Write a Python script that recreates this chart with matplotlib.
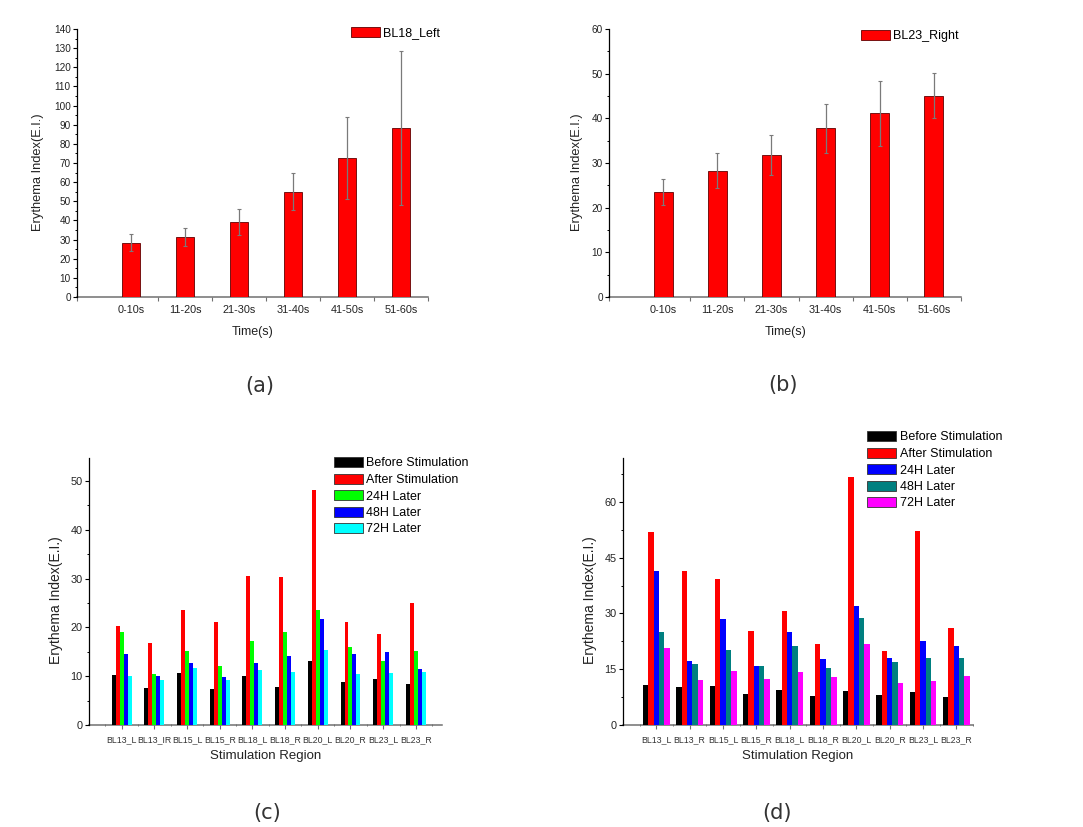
import numpy as np
import matplotlib
matplotlib.use("Agg")
import matplotlib.pyplot as plt
from matplotlib.ticker import MultipleLocator, FixedLocator

plt.rcParams["font.family"] = ["Liberation Sans", "DejaVu Sans"]

W, H = 1083, 827

# --- data -------------------------------------------------------------------
times = ["0-10s", "11-20s", "21-30s", "31-40s", "41-50s", "51-60s"]

bl18_left = [28.4, 31.6, 39.2, 55.1, 72.4, 88.4]
bl18_left_err = [4.6, 4.7, 7.0, 9.6, 21.4, 40.1]

bl23_right = [23.6, 28.3, 31.8, 37.8, 41.1, 45.1]
bl23_right_err = [2.9, 3.9, 4.5, 5.5, 7.3, 5.0]

regions = ["BL13_L", "BL13_IR", "BL15_L", "BL15_R", "BL18_L",
           "BL18_R", "BL20_L", "BL20_R", "BL23_L", "BL23_R"]
regions_d = ["BL13_L", "BL13_R", "BL15_L", "BL15_R", "BL18_L",
             "BL18_R", "BL20_L", "BL20_R", "BL23_L", "BL23_R"]

c_labels = ["Before Stimulation", "After Stimulation", "24H Later",
            "48H Later", "72H Later"]
c_before = [10.3, 7.5, 10.7, 7.3, 10.1, 7.7, 13.1, 8.9, 9.4, 8.5]
c_after = [20.2, 16.8, 23.5, 21.1, 30.6, 30.3, 48.2, 21.2, 18.7, 25.0]
c_24h = [19.0, 10.4, 15.1, 12.0, 17.2, 19.0, 23.5, 15.9, 13.1, 15.1]
c_48h = [14.6, 10.1, 12.8, 9.8, 12.8, 14.2, 21.7, 14.5, 15.0, 11.5]
c_72h = [10.0, 9.3, 11.6, 9.2, 11.2, 10.8, 15.3, 10.5, 10.7, 10.8]
c_colors = ["#000000", "#FF0000", "#00FF00", "#0000FF", "#00FFFF"]

d_labels = ["Before Stimulation", "After Stimulation", "24H Later",
            "48H Later", "72H Later"]
d_before = [10.8, 10.2, 10.6, 8.3, 9.3, 7.7, 9.2, 8.0, 9.0, 7.5]
d_after = [51.8, 41.3, 39.2, 25.2, 30.6, 21.7, 66.8, 19.8, 52.2, 26.0]
d_24h = [41.5, 17.2, 28.5, 16.0, 25.0, 17.7, 32.0, 18.1, 22.7, 21.3]
d_48h = [25.0, 16.3, 20.1, 16.0, 21.2, 15.3, 28.8, 17.0, 18.0, 18.1]
d_72h = [20.7, 12.0, 14.5, 12.4, 14.3, 13.0, 21.8, 11.2, 11.8, 13.3]
d_colors = ["#000000", "#FF0000", "#0000FF", "#008080", "#FF00FF"]

AXIS_GREY = "#707070"


def px_axes(fig, left, right, top, bottom):
    """Axes placed from pixel edges (origin top-left)."""
    return fig.add_axes([left / W, 1 - bottom / H, (right - left) / W,
                         (bottom - top) / H])


def style_axes(ax):
    ax.spines["top"].set_visible(False)
    ax.spines["right"].set_visible(False)
    ax.spines["left"].set_color("black")
    ax.spines["left"].set_linewidth(0.9)
    ax.spines["bottom"].set_color(AXIS_GREY)
    ax.spines["bottom"].set_linewidth(1.1)
    ax.spines["bottom"].set_zorder(0.5)
    ax.tick_params(axis="y", which="major", direction="out", length=3,
                   width=0.8, labelsize=7.2, pad=1.5, colors="black",
                   labelcolor="#222222")
    ax.tick_params(axis="y", which="minor", direction="out", length=1.8,
                   width=0.7)


def legend_at(ax, handles, labels, x, y, fs):
    ax.legend(handles, labels, loc="upper left",
              bbox_to_anchor=(x / W, 1 - y / H),
              bbox_transform=ax.figure.transFigure, frameon=False,
              fontsize=fs, handlelength=2.3, handleheight=0.9,
              handletextpad=0.3, labelspacing=0.32, borderpad=0,
              borderaxespad=0)


def time_panel(fig, box, values, errs, ymax, label, leg_xy, ylab_x, xlab_xy):
    ax = px_axes(fig, *box)
    x = np.arange(1, len(times) + 1)
    bars = ax.bar(x, values, width=0.35, color="#FF0000",
                  edgecolor="#600000", linewidth=0.6, zorder=2)
    ax.errorbar(x, values, yerr=errs, fmt="none", ecolor="#7a7a7a",
                elinewidth=0.9, capsize=1.2, capthick=0.8, zorder=3)
    ax.set_xlim(0, 6.5)
    ax.set_ylim(0, ymax)
    style_axes(ax)
    ax.yaxis.set_major_locator(MultipleLocator(10))
    ax.yaxis.set_minor_locator(MultipleLocator(5))
    ax.set_xticks(x)
    ax.set_xticklabels(times, fontsize=7.8, color="#222222")
    ax.xaxis.set_minor_locator(FixedLocator([0] + list(x + 0.5)))
    ax.tick_params(axis="x", which="major", length=0, pad=6)
    ax.tick_params(axis="x", which="minor", length=3, width=0.8,
                   direction="out", colors=AXIS_GREY)
    ax.spines["left"].set_bounds(0, ymax)
    fig.text(ylab_x / W, 1 - 172 / H, "Erythema Index(E.I.)", rotation=90,
             ha="center", va="center", fontsize=9.3, color="#222222")
    fig.text(xlab_xy[0] / W, 1 - xlab_xy[1] / H, "Time(s)", ha="center",
             va="center", fontsize=9, color="#222222")
    legend_at(ax, [bars], [label], leg_xy[0], leg_xy[1], 9)
    return ax


def region_panel(fig, box, names, series, colors, labels, ymax, step,
                 group_w, xmax, leg_xy, ylab_xy, xlab_xy):
    ax = px_axes(fig, *box)
    x = np.arange(1, len(names) + 1)
    n = len(series)
    bw = group_w / n
    for i, (vals, col) in enumerate(zip(series, colors)):
        offs = (i - (n - 1) / 2) * bw
        ax.bar(x + offs, vals, width=bw, color=col, edgecolor="none",
               linewidth=0, zorder=2)
    ax.set_xlim(0, xmax)
    style_axes(ax)
    ax.tick_params(axis="y", labelsize=7.8)
    ax.yaxis.set_major_locator(MultipleLocator(step))
    ax.yaxis.set_minor_locator(MultipleLocator(step / 2))
    ax.set_ylim(0, ymax)
    ax.set_xticks(x)
    ax.set_xticklabels(names, fontsize=6.3, color="#333333")
    ax.xaxis.set_minor_locator(FixedLocator(list(x - 0.5) + [x[-1] + 0.5]))
    ax.tick_params(axis="x", which="major", length=3, width=0.8,
                   direction="out", colors=AXIS_GREY, pad=4)
    ax.tick_params(axis="x", which="minor", length=1.5, width=0.7,
                   direction="inout", colors=AXIS_GREY)
    for lbl in ax.get_xticklabels():
        lbl.set_color("#333333")
    fig.text(ylab_xy[0] / W, 1 - ylab_xy[1] / H, "Erythema Index(E.I.)",
             rotation=90, ha="center", va="center", fontsize=10,
             color="#222222")
    fig.text(xlab_xy[0] / W, 1 - xlab_xy[1] / H, "Stimulation Region",
             ha="center", va="center", fontsize=9.5, color="#222222")
    legend_handles = [plt.Rectangle((0, 0), 1, 1, facecolor=c,
                                    edgecolor="#333333", linewidth=0.6)
                      for c in colors]
    legend_at(ax, legend_handles, labels, leg_xy[0], leg_xy[1], 9)
    return ax


fig = plt.figure(figsize=(W / 100, H / 100), dpi=100)
fig.patch.set_facecolor("white")

# (a)
time_panel(fig, (77, 428, 29, 297), bl18_left, bl18_left_err, 140,
           "BL18_Left", (351, 27), 38, (253, 332))
# (b)
time_panel(fig, (609, 961, 29, 297), bl23_right, bl23_right_err, 60,
           "BL23_Right", (861, 30), 577, (786, 332))

# (c)
region_panel(fig, (89, 442, 458, 725), regions,
             [c_before, c_after, c_24h, c_48h, c_72h], c_colors,
             c_labels, 54.7, 10, 0.61, 10.8, (334, 457), (56, 600),
             (266, 756))

# (d)
region_panel(fig, (623, 973, 458, 725), regions_d,
             [d_before, d_after, d_24h, d_48h, d_72h], d_colors,
             d_labels, 71.8, 15, 0.81, 10.5, (867, 431), (590, 600),
             (798, 756))

# panel captions
for lab, (cx, cy) in zip(["(a)", "(b)", "(c)", "(d)"],
                         [(260, 386), (783, 385), (267, 813), (777, 813)]):
    fig.text(cx / W, 1 - cy / H, lab, ha="center", va="center",
             fontsize=15, color="#333333", family="DejaVu Sans")

fig.savefig("out.png", dpi=100, facecolor="white")
